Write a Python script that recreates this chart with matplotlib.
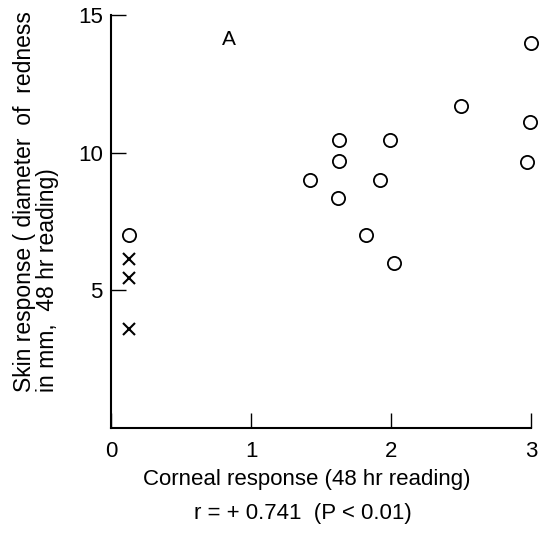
import numpy as np
import matplotlib
matplotlib.use("Agg")
import matplotlib.pyplot as plt

# corneal response (x) vs skin response (y)
circ_x = [0.13, 1.42, 1.62, 1.63, 1.63, 1.82, 1.92, 1.99, 2.02, 2.50, 2.97, 2.99, 3.0]
circ_y = [7.0, 9.0, 8.35, 9.7, 10.45, 7.0, 9.0, 10.45, 6.0, 11.7, 9.65, 11.1, 14.0]
cross_x = [0.13, 0.13, 0.13]
cross_y = [6.15, 5.45, 3.6]

xticks = [0, 1, 2, 3]
yticks = [5, 10, 15]

plt.rcParams['font.family'] = ['Liberation Sans', 'DejaVu Sans']

fig = plt.figure(figsize=(5.4, 5.34), dpi=100)
ax = fig.add_axes([0.2056, 0.1985, 0.7778, 0.7734])

ax.plot(circ_x, circ_y, 'o', ms=9.5, mfc='white', mec='black', mew=1.3, clip_on=False)
ax.plot(cross_x, cross_y, 'x', ms=8.5, color='black', mew=1.5, clip_on=False)

ax.set_xlim(0, 3)
ax.set_ylim(0, 15)
ax.set_xticks(xticks)
ax.set_yticks(yticks)
ax.spines['top'].set_visible(False)
ax.spines['right'].set_visible(False)
ax.spines['left'].set_linewidth(1.5)
ax.spines['bottom'].set_linewidth(1.5)
ax.tick_params(direction='in', length=11, width=1.0, labelsize=16)
ax.tick_params(axis='x', pad=9)
ax.tick_params(axis='y', pad=6)

ax.text(0.84, 14.1, 'A', fontsize=15, ha='center', va='center')

fig.text(0.025, 0.623, 'Skin response ( diameter  of  redness\nin mm,  48 hr reading)',
         rotation=90, fontsize=16.5, ha='left', va='center', multialignment='left',
         linespacing=0.95)
fig.text(307 / 540, 1 - 480 / 534, 'Corneal response (48 hr reading)',
         fontsize=16, ha='center', va='center')
fig.text(303 / 540, 1 - 513 / 534, 'r = + 0.741  (P < 0.01)',
         fontsize=16, ha='center', va='center')

fig.savefig('out.png', dpi=100)
